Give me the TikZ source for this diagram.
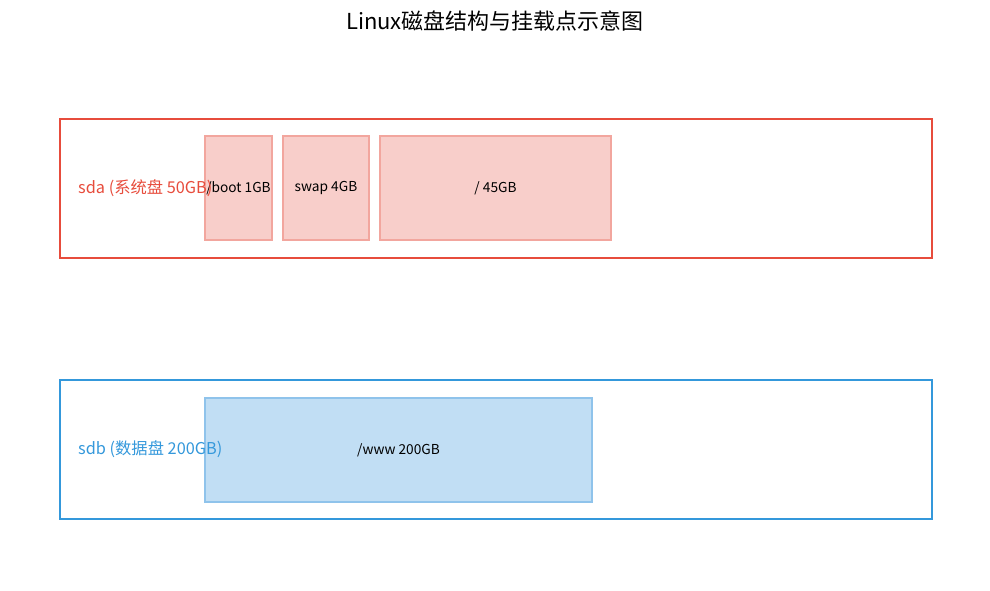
\documentclass[tikz,border=0pt]{standalone}
\usepackage{fontspec}
\setmainfont{Noto Sans CJK SC}
\begin{document}
\begin{tikzpicture}[x=1pt,y=-1pt,
  disk/.style={draw=#1,line width=2.6pt},
  part/.style={draw=#1,line width=1.2pt,fill=#1!40,inner sep=0pt,font=\fontsize{13.7}{16}\selectfont},
  lab/.style={anchor=west,text=#1,font=\fontsize{16.3}{18}\selectfont,inner sep=0pt}]
\definecolor{sred}{HTML}{E74C3C}
\definecolor{sblue}{HTML}{3498DB}
\definecolor{pred}{HTML}{F2A69E}
\definecolor{pblue}{HTML}{8FC3EB}
\useasboundingbox (0,0) rectangle (990,590);
\node[font=\fontsize{22}{26}\selectfont] (title) at (495,21) {Linux磁盘结构与挂载点示意图};
\draw[disk=sred] (60,119) rectangle (932,258);
\node[part=pred,fill=pred!55,minimum width=67pt,minimum height=104pt] (boot) at (238.5,188) {/boot 1GB};
\node[part=pred,fill=pred!55,minimum width=86pt,minimum height=104pt] (swap) at (326,188) {swap 4GB};
\node[part=pred,fill=pred!55,minimum width=231pt,minimum height=104pt] (root) at (495.5,188) {/ 45GB};
\node[lab=sred] (sda) at (78,188) {sda (系统盘 50GB)};
\draw[disk=sblue] (60,380) rectangle (932,519);
\node[part=pblue,fill=pblue!55,minimum width=387pt,minimum height=104pt] (www) at (398.5,450) {/www 200GB};
\node[lab=sblue] (sdb) at (78,449) {sdb (数据盘 200GB)};
\end{tikzpicture}
\end{document}
